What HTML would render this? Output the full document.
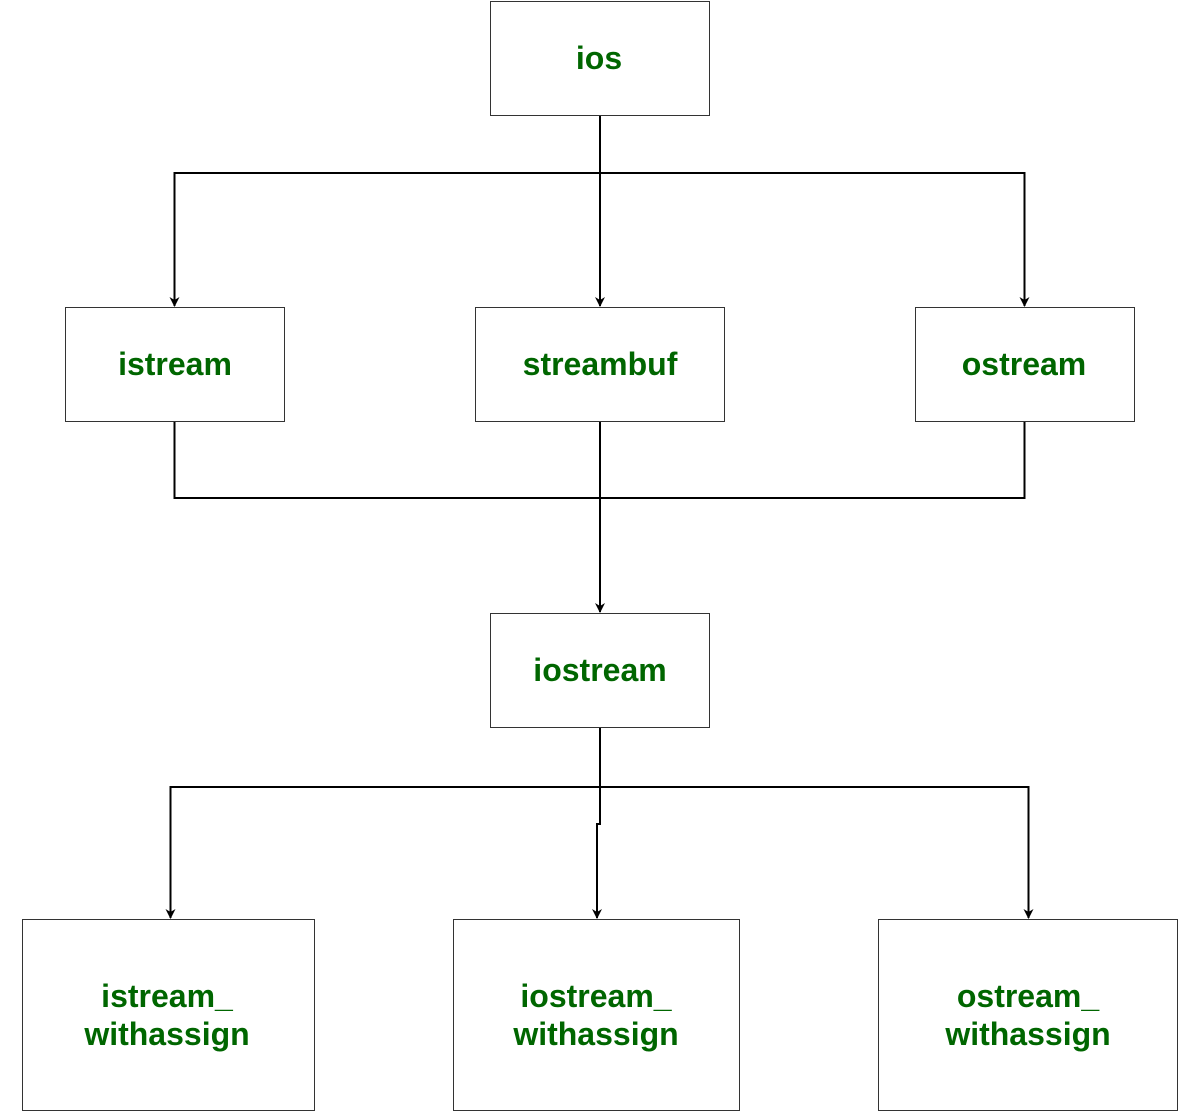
<!DOCTYPE html>
<html><head><meta charset="utf-8"><style>
html,body{margin:0;padding:0;background:#fff;}
svg{display:block;}
text{font-family:"Liberation Sans",sans-serif;font-weight:bold;font-size:32px;fill:#006600;text-anchor:middle;}
</style></head><body>
<svg width="1201" height="1113" viewBox="0 0 1201 1113">
<g fill="#fff" stroke="#333" stroke-width="1">
<rect x="490.5" y="1.5" width="219" height="114"/>
<rect x="65.5" y="307.5" width="219" height="114"/>
<rect x="475.5" y="307.5" width="249" height="114"/>
<rect x="915.5" y="307.5" width="219" height="114"/>
<rect x="490.5" y="613.5" width="219" height="114"/>
<rect x="22.5" y="919.5" width="292" height="191"/>
<rect x="453.5" y="919.5" width="286" height="191"/>
<rect x="878.5" y="919.5" width="299" height="191"/>
</g>
<g fill="none" stroke="#000" stroke-width="2">
<path d="M600,116 V173 H174.5 V306"/>
<path d="M600,116 V306"/>
<path d="M600,173 H1024.5 V306"/>
<path d="M174.5,422 V498 H1024.5 V422"/>
<path d="M600,422 V612"/>
<path d="M600,728 V787 H170.5 V918"/>
<path d="M600,787 H1028.5 V918"/>
<path d="M600,787 V824 H597 V918"/>
</g>
<g fill="#000">
<path d="M169.5,297 L174.5,307 L179.5,297 L174.5,300 Z"/>
<path d="M595,297 L600,307 L605,297 L600,300 Z"/>
<path d="M1019.5,297 L1024.5,307 L1029.5,297 L1024.5,300 Z"/>
<path d="M595,603 L600,613 L605,603 L600,606 Z"/>
<path d="M165.5,909 L170.5,919 L175.5,909 L170.5,912 Z"/>
<path d="M592,909 L597,919 L602,909 L597,912 Z"/>
<path d="M1023.5,909 L1028.5,919 L1033.5,909 L1028.5,912 Z"/>
</g>
<text x="599" y="69">ios</text>
<text x="175" y="375">istream</text>
<text x="600" y="375">streambuf</text>
<text x="1024" y="375">ostream</text>
<text x="600" y="681">iostream</text>
<text x="167" y="1007">istream_</text>
<text x="167" y="1045">withassign</text>
<text x="596" y="1007">iostream_</text>
<text x="596" y="1045">withassign</text>
<text x="1028" y="1007">ostream_</text>
<text x="1028" y="1045">withassign</text>
</svg>
</body></html>
